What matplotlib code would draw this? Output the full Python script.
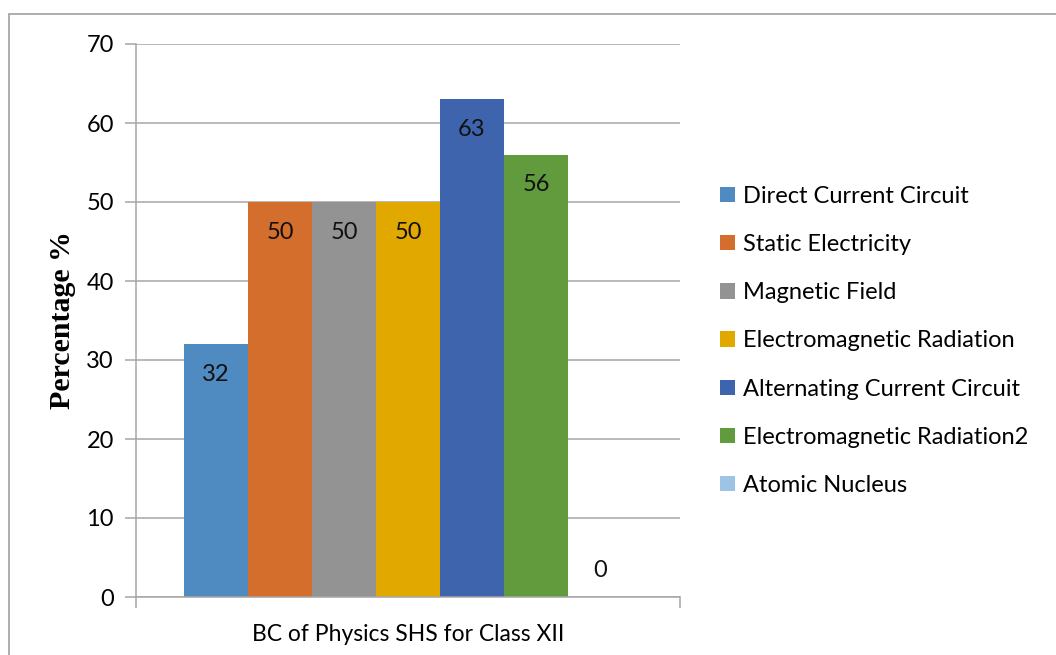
import matplotlib
matplotlib.use("Agg")
import matplotlib.pyplot as plt
import numpy as np
from matplotlib.patches import Rectangle

# data
topics = [
    "Direct Current Circuit",
    "Static Electricity",
    "Magnetic Field",
    "Electromagnetic Radiation",
    "Alternating Current Circuit",
    "Electromagnetic Radiation2",
    "Atomic Nucleus",
]
percent = [32, 50, 50, 50, 63, 56, 0]
category = "BC of Physics SHS for Class XII"
yticks = [0, 10, 20, 30, 40, 50, 60, 70]

colors = ["#4F8BC0", "#D46E2C", "#939393", "#E1A900",
          "#3D64AD", "#629B3E", "#9DC3E6"]

SANS = ["Lato", "DejaVu Sans"]
GRID = "#A6A6A6"
FS = 17

fig = plt.figure(figsize=(10.56, 6.55), dpi=100)
ax = fig.add_axes([136 / 1056, 1 - 597 / 655, 544 / 1056, 553 / 655])

# outer chart frame (only left/top visible in the reference)
fig.patches.append(Rectangle((9 / 1056, -0.1), 1.2, 1 - 14 / 655 + 0.1,
                             transform=fig.transFigure, fill=False,
                             edgecolor="#A0A0A0", linewidth=1.2))

n = len(percent)
bar_w = 1 / (n + 1.5)
x0 = 0.75 * bar_w
xs = x0 + np.arange(n) * bar_w

bars = ax.bar(xs, percent, width=bar_w, align="edge", color=colors,
              label=topics, zorder=2)

for x, v in zip(xs, percent):
    if v > 0:
        ax.text(x + bar_w / 2, v - 3.8, str(v), ha="center", va="center",
                fontsize=FS, family=SANS, color="#111111")
    else:
        ax.text(x + bar_w / 2, v + 3.4, str(v), ha="center", va="center",
                fontsize=FS, family=SANS, color="#111111")

ax.set_xlim(0, 1)
ax.set_ylim(0, 70)
ax.set_yticks(yticks)
ax.set_yticklabels([str(t) for t in yticks], fontsize=FS, family=SANS)
ax.set_xticks([0, 1])
ax.set_xticklabels(["", ""])
ax.yaxis.grid(True, color=GRID, linewidth=1.1, zorder=0)
ax.tick_params(axis="y", length=8, color=GRID, width=1.1, pad=8)
ax.tick_params(axis="x", length=8, color=GRID, width=1.1)
for side in ["top", "right"]:
    ax.spines[side].set_visible(False)
for side in ["left", "bottom"]:
    ax.spines[side].set_color(GRID)
    ax.spines[side].set_linewidth(1.1)

ax.set_xlabel(category, fontsize=16.5, family=SANS, labelpad=8)
fig.text(62 / 1056, 1 - 320 / 655, "Percentage %", rotation=90,
         ha="center", va="center", fontsize=21.5, fontweight="bold",
         family=["Liberation Serif", "DejaVu Serif"])

ax.legend(handles=list(bars), labels=topics, loc="upper left",
          bbox_to_anchor=(720 / 1056, 1 - 186 / 655),
          bbox_transform=fig.transFigure, frameon=False,
          prop={"family": SANS, "size": FS},
          handlelength=0.62, handleheight=0.62, handletextpad=0.35,
          labelspacing=1.15, borderaxespad=0, borderpad=0)

fig.savefig("out.png", dpi=100)
